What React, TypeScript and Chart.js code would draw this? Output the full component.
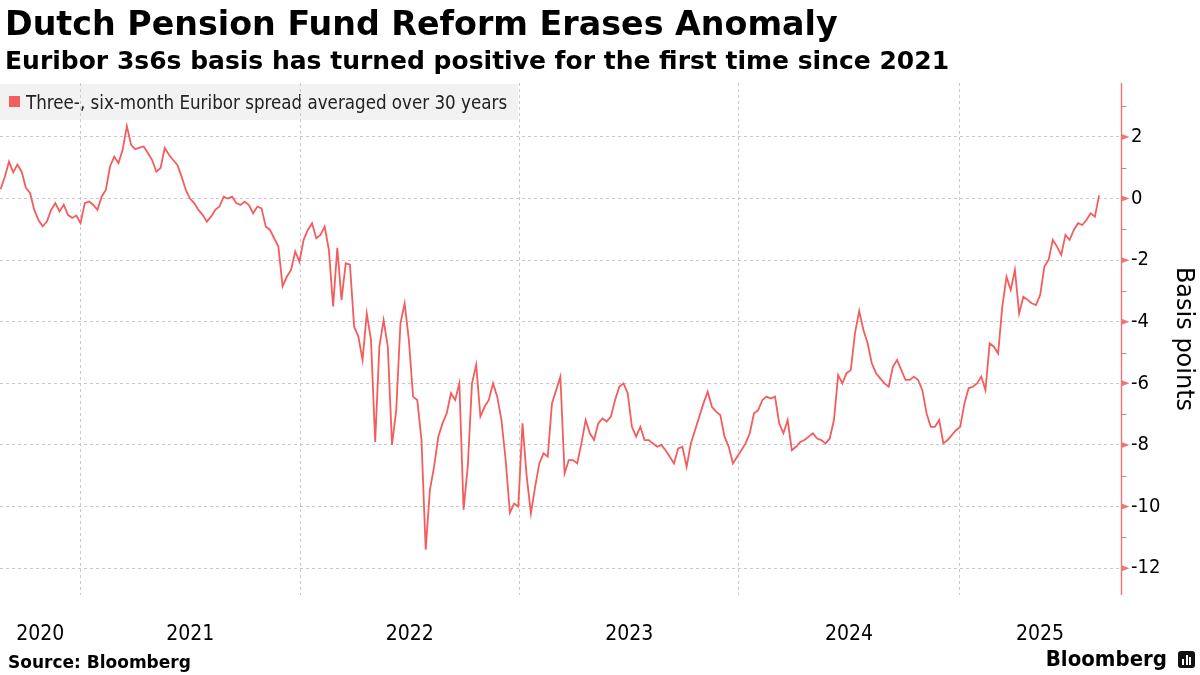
import React, { useEffect, useRef } from 'react';
import { Chart, registerables } from 'chart.js';

Chart.register(...registerables);

const TITLE = 'Dutch Pension Fund Reform Erases Anomaly';
const SUBTITLE = 'Euribor 3s6s basis has turned positive for the first time since 2021';
const SERIES_LABEL = 'Three-, six-month Euribor spread averaged over 30 years';
const Y_TITLE = 'Basis points';
const SOURCE = 'Source: Bloomberg';
const BRAND = 'Bloomberg';

const YEAR_LABELS = ['2020', '2021', '2022', '2023', '2024', '2025'];
const Y_TICKS = [2, 0, -2, -4, -6, -8, -10, -12];
const Y_MINOR_TICKS = [3, 1, -1, -3, -5, -7, -9, -11];

// weekly observations (Fridays), first one on 2020-08-21
const FIRST_WEEK = [2020, 7, 21];
const spread2020 = [0.3, 0.7, 1.2, 0.85, 1.1, 0.87, 0.35, 0.18, -0.37, -0.7, -0.9, -0.75, -0.37, -0.15, -0.42, -0.2, -0.53, -0.63, -0.55];
const spread2021 = [-0.8, -0.15, -0.1, -0.2, -0.37, 0.06, 0.28, 1.04, 1.36, 1.15, 1.58, 2.35, 1.74, 1.6, 1.65, 1.69, 1.48, 1.25, 0.87, 0.99, 1.64, 1.42, 1.25, 1.09, 0.71, 0.28, 0.0, -0.15, -0.37, -0.53, -0.75, -0.59, -0.37, -0.26, 0.06, 0.0, 0.06, -0.15, -0.21, -0.1, -0.21, -0.48, -0.26, -0.32, -0.91, -1.02, -1.29, -1.56, -2.85, -2.54, -2.32, -1.72, -2.05];
const spread2022 = [-1.34, -1.02, -0.8, -1.29, -1.18, -0.91, -1.67, -3.5, -1.6, -3.3, -2.1, -2.15, -4.16, -4.48, -5.24, -3.73, -4.59, -7.9, -4.8, -3.94, -4.81, -8.0, -6.87, -4.05, -3.4, -4.59, -6.43, -6.54, -7.84, -11.4, -9.46, -8.7, -7.73, -7.3, -6.97, -6.32, -6.54, -6.0, -10.1, -8.7, -6.0, -5.4, -7.08, -6.76, -6.54, -6.0, -6.43, -7.19, -8.49, -10.2, -9.9, -10.0];
const spread2023 = [-7.3, -9.03, -10.22, -9.36, -8.6, -8.27, -8.38, -6.65, -6.22, -5.78, -8.92, -8.49, -8.49, -8.6, -7.95, -7.19, -7.62, -7.84, -7.3, -7.14, -7.24, -7.08, -6.54, -6.11, -6.0, -6.32, -7.41, -7.73, -7.41, -7.84, -7.84, -7.95, -8.06, -8.0, -8.17, -8.38, -8.6, -8.11, -8.06, -8.71, -7.95, -7.52, -7.08, -6.65, -6.27, -6.76, -6.92, -7.03, -7.73, -8.06, -8.6, -8.38];
const spread2024 = [-8.17, -7.95, -7.62, -6.97, -6.87, -6.54, -6.43, -6.49, -6.43, -7.3, -7.62, -7.19, -8.17, -8.06, -7.9, -7.84, -7.73, -7.62, -7.79, -7.84, -7.95, -7.79, -7.19, -5.73, -6.0, -5.67, -5.57, -4.37, -3.65, -4.27, -4.7, -5.35, -5.67, -5.84, -6.0, -6.11, -5.46, -5.24, -5.57, -5.89, -5.89, -5.78, -5.89, -6.22, -6.97, -7.41, -7.41, -7.19, -7.95, -7.84, -7.68, -7.52];
const spread2025 = [-7.41, -6.65, -6.16, -6.11, -6.0, -5.78, -6.22, -4.7, -4.81, -5.03, -3.51, -2.54, -2.97, -2.32, -3.73, -3.19, -3.29, -3.4, -3.46, -3.13, -2.21, -1.99, -1.34, -1.56, -1.83, -1.18, -1.34, -1.02, -0.8, -0.86, -0.7, -0.48, -0.59, 0.1];

const LINE_COLOR = '#f45d5d';
const AXIS_COLOR = '#f07474';
const GRID_COLOR = '#c9c9c9';
const COND = '"DejaVu Sans Condensed", "DejaVu Sans", sans-serif';
const SANS = '"DejaVu Sans", sans-serif';

const DAY = 86400000;
const X_MIN = Date.UTC(2020, 7, 20);
const X_MAX = Date.UTC(2025, 8, 27, 10);
const Y_MIN = -12.87;
const Y_MAX = 3.75;

export default function App() {
  const ref = useRef<HTMLCanvasElement | null>(null);

  useEffect(() => {
    const canvas = ref.current;
    if (!canvas) return;
    const values = [...spread2020, ...spread2021, ...spread2022, ...spread2023, ...spread2024, ...spread2025];
    const start = Date.UTC(FIRST_WEEK[0], FIRST_WEEK[1], FIRST_WEEK[2]);
    const points = values.map((v, i) => ({ x: start + i * 7 * DAY, y: v }));

    const firstYear = parseInt(YEAR_LABELS[0], 10);
    const boundaries: number[] = [];
    const mids = new Map<number, string>();
    YEAR_LABELS.forEach((lab, k) => {
      const y = firstYear + k;
      const a = Math.max(X_MIN, Date.UTC(y, 0, 1));
      const b = Math.min(X_MAX, Date.UTC(y + 1, 0, 1));
      mids.set((a + b) / 2, lab);
      if (k > 0) boundaries.push(Date.UTC(y, 0, 1));
    });
    const boundarySet = new Set(boundaries);

    const decor = {
      id: 'decor',
      beforeDraw(chart: any) {
        const { ctx } = chart;
        ctx.save();
        ctx.fillStyle = '#f2f2f2';
        ctx.fillRect(0, 84, 518, 36);
        ctx.fillStyle = LINE_COLOR;
        ctx.fillRect(9, 96, 11, 11);
        ctx.fillStyle = '#222';
        ctx.font = '18.6px ' + COND;
        ctx.textBaseline = 'alphabetic';
        ctx.textAlign = 'left';
        ctx.fillText(SERIES_LABEL, 26, 109);
        ctx.restore();
      },
      afterDraw(chart: any) {
        const { ctx, chartArea } = chart;
        const ys = chart.scales.y;
        const x0 = chartArea.right + 0.5;
        ctx.save();
        ctx.strokeStyle = AXIS_COLOR;
        ctx.fillStyle = AXIS_COLOR;
        ctx.lineWidth = 1.4;
        ctx.beginPath();
        ctx.moveTo(x0, chartArea.top);
        ctx.lineTo(x0, chartArea.bottom);
        ctx.stroke();
        Y_TICKS.forEach((v) => {
          const py = ys.getPixelForValue(v);
          ctx.beginPath();
          ctx.moveTo(x0, py - 3);
          ctx.lineTo(x0 + 8, py);
          ctx.lineTo(x0, py + 3);
          ctx.closePath();
          ctx.fill();
        });
        ctx.lineWidth = 1;
        Y_MINOR_TICKS.forEach((v) => {
          const py = Math.round(ys.getPixelForValue(v)) + 0.5;
          ctx.beginPath();
          ctx.moveTo(x0, py);
          ctx.lineTo(x0 + 5, py);
          ctx.stroke();
        });
        ctx.restore();
      },
    };

    const chart = new Chart(canvas, {
      type: 'line',
      data: {
        datasets: [
          {
            label: SERIES_LABEL,
            data: points,
            borderColor: LINE_COLOR,
            backgroundColor: LINE_COLOR,
            borderWidth: 1.8,
            pointRadius: 0,
            tension: 0,
            fill: false,
          },
        ],
      },
      options: {
        responsive: false,
        maintainAspectRatio: false,
        animation: false,
        layout: { padding: { top: 83, left: 0, right: 0, bottom: 0 } },
        plugins: { legend: { display: false }, tooltip: { enabled: false }, title: { display: false } },
        scales: {
          x: {
            type: 'linear',
            min: X_MIN,
            max: X_MAX,
            afterBuildTicks: (scale: any) => {
              const all = [...boundaries, ...Array.from(mids.keys())].sort((p, q) => p - q);
              scale.ticks = all.map((value) => ({ value }));
            },
            afterFit: (scale: any) => {
              scale.height = 80;
              scale.paddingLeft = 0;
              scale.paddingRight = 0;
            },
            ticks: {
              autoSkip: false,
              maxRotation: 0,
              minRotation: 0,
              padding: 27,
              color: '#000',
              font: { family: COND, size: 21 },
              callback: (value: any) => mids.get(value) ?? '',
            },
            grid: {
              drawTicks: false,
              lineWidth: 1,
              color: (c: any) => (c.tick && boundarySet.has(c.tick.value) ? GRID_COLOR : 'rgba(0,0,0,0)'),
            },
            border: { display: false, dash: [3, 3] },
          },
          y: {
            type: 'linear',
            position: 'right',
            min: Y_MIN,
            max: Y_MAX,
            afterBuildTicks: (scale: any) => {
              scale.ticks = Y_TICKS.slice().sort((p, q) => p - q).map((value) => ({ value }));
            },
            afterFit: (scale: any) => {
              scale.width = 79;
              scale.paddingTop = 0;
              scale.paddingBottom = 0;
            },
            ticks: {
              padding: 10,
              color: '#000',
              font: { family: COND, size: 20 },
              callback: (value: any) => String(value),
            },
            grid: { drawTicks: false, color: GRID_COLOR, lineWidth: 1 },
            border: { display: false, dash: [3, 3] },
            title: {
              display: true,
              text: Y_TITLE,
              color: '#000',
              font: { family: SANS, size: 24 },
              padding: { top: 2, bottom: 0 },
            },
          },
        },
      },
      plugins: [decor],
    } as any);

    return () => chart.destroy();
  }, []);

  return (
    <div style={{ position: 'fixed', left: 0, top: 0, width: 1200, height: 675, background: '#fff', overflow: 'hidden' }}>
      <canvas ref={ref} width={1200} height={675} style={{ position: 'absolute', left: 0, top: 0, width: 1200, height: 675 }} />
      <div style={{ position: 'absolute', left: 5, top: 7, fontFamily: SANS, fontWeight: 'bold', fontSize: 33.3, lineHeight: '33px', whiteSpace: 'nowrap', color: '#000' }}>
        {TITLE}
      </div>
      <div style={{ position: 'absolute', left: 5, top: 48, fontFamily: SANS, fontWeight: 'bold', fontSize: 25, lineHeight: '25px', whiteSpace: 'nowrap', color: '#000' }}>
        {SUBTITLE}
      </div>
      <div style={{ position: 'absolute', left: 8, top: 654, fontFamily: SANS, fontWeight: 'bold', fontSize: 17, lineHeight: '17px', whiteSpace: 'nowrap', color: '#000' }}>
        {SOURCE}
      </div>
      <div style={{ position: 'absolute', right: 33, top: 648, fontFamily: COND, fontWeight: 'bold', fontSize: 22, lineHeight: '22px', whiteSpace: 'nowrap', color: '#000' }}>
        {BRAND}
      </div>
      <div style={{ position: 'absolute', left: 1178, top: 651, width: 17, height: 17, borderRadius: 3, background: '#111' }}>
        <div style={{ position: 'absolute', left: 4, top: 8, width: 2, height: 6, background: '#fff' }} />
        <div style={{ position: 'absolute', left: 7.5, top: 4, width: 2, height: 10, background: '#fff' }} />
        <div style={{ position: 'absolute', left: 11, top: 6, width: 2, height: 8, background: '#fff' }} />
      </div>
    </div>
  );
}
